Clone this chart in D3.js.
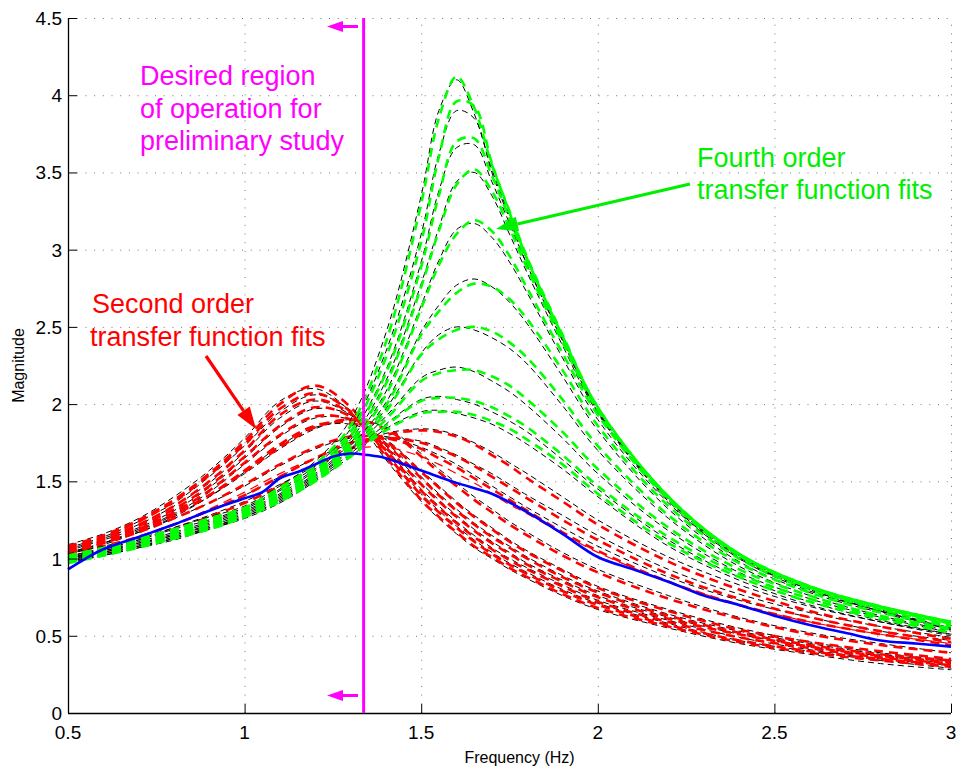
<!DOCTYPE html>
<html>
<head>
<meta charset="utf-8">
<script src="https://cdn.jsdelivr.net/npm/d3@7"></script>
<style>
  html, body { margin: 0; padding: 0; background: #fff; }
  svg { display: block; font-family: "Liberation Sans", Arial, Helvetica, sans-serif; }
</style>
</head>
<body>
<svg id="chart" width="961" height="769"></svg>
<script>
// Frequency grid (Hz) shared by every fitted and measured curve
const freq = [0.5, 0.6, 0.7, 0.8, 0.9, 1.0, 1.1, 1.2, 1.3, 1.4, 1.5, 1.55, 1.6, 1.65, 1.7, 1.75, 1.8, 1.9, 2.0, 2.2, 2.4, 2.6, 2.8, 3.0];

// Fourth order transfer function fits (green)
const fourthOrderFits = [
  [1.02,1.07,1.13,1.19,1.26,1.33,1.46,1.61,1.86,2.40,3.30,3.85,4.12,3.92,3.55,3.25,2.95,2.45,1.98,1.40,1.03,0.82,0.69,0.59],
  [1.01,1.06,1.12,1.18,1.25,1.32,1.45,1.59,1.82,2.30,3.05,3.60,3.96,3.93,3.56,3.24,2.94,2.44,1.98,1.40,1.03,0.82,0.69,0.59],
  [1.01,1.05,1.11,1.17,1.24,1.31,1.43,1.57,1.79,2.20,2.89,3.35,3.70,3.72,3.48,3.20,2.92,2.43,1.97,1.40,1.03,0.82,0.69,0.59],
  [1.00,1.05,1.10,1.16,1.23,1.30,1.42,1.56,1.76,2.13,2.76,3.12,3.42,3.52,3.38,3.14,2.88,2.40,1.96,1.39,1.02,0.82,0.68,0.58],
  [1.00,1.04,1.10,1.16,1.22,1.30,1.41,1.55,1.74,2.06,2.62,2.90,3.10,3.19,3.12,2.96,2.75,2.33,1.93,1.38,1.02,0.81,0.68,0.58],
  [0.99,1.04,1.09,1.15,1.21,1.29,1.40,1.54,1.72,1.99,2.45,2.60,2.72,2.78,2.76,2.68,2.55,2.22,1.86,1.34,1.00,0.80,0.67,0.57],
  [0.99,1.03,1.09,1.14,1.21,1.28,1.39,1.53,1.70,1.95,2.32,2.42,2.48,2.50,2.47,2.40,2.30,2.03,1.73,1.28,0.97,0.78,0.65,0.56],
  [0.98,1.03,1.08,1.14,1.20,1.28,1.38,1.52,1.69,1.90,2.15,2.20,2.22,2.22,2.18,2.12,2.03,1.82,1.58,1.20,0.93,0.76,0.63,0.55],
  [0.98,1.02,1.08,1.13,1.19,1.27,1.37,1.51,1.67,1.86,2.02,2.04,2.04,2.02,1.98,1.92,1.85,1.67,1.47,1.14,0.90,0.74,0.62,0.54],
  [0.97,1.02,1.07,1.13,1.19,1.27,1.37,1.50,1.66,1.83,1.94,1.95,1.95,1.93,1.89,1.84,1.77,1.61,1.42,1.10,0.88,0.72,0.61,0.52]
];

// Measured responses matched by the fourth order fits (thin black)
const fourthOrderData = [
  [1.03,1.08,1.13,1.20,1.27,1.34,1.47,1.63,1.90,2.46,3.35,3.90,4.10,3.88,3.52,3.22,2.93,2.43,1.96,1.39,1.02,0.81,0.67,0.55],
  [1.02,1.06,1.12,1.19,1.25,1.33,1.45,1.60,1.84,2.34,3.10,3.62,3.90,3.85,3.50,3.20,2.90,2.42,1.95,1.38,1.01,0.80,0.66,0.55],
  [1.01,1.05,1.11,1.17,1.24,1.32,1.44,1.58,1.80,2.22,2.92,3.38,3.66,3.68,3.44,3.17,2.90,2.41,1.95,1.38,1.01,0.80,0.66,0.55],
  [1.00,1.05,1.10,1.16,1.23,1.31,1.42,1.57,1.77,2.15,2.78,3.14,3.44,3.50,3.35,3.10,2.85,2.38,1.94,1.37,1.00,0.80,0.66,0.54],
  [1.00,1.04,1.10,1.15,1.22,1.30,1.41,1.55,1.75,2.08,2.64,2.93,3.13,3.17,3.08,2.92,2.72,2.30,1.90,1.36,1.00,0.79,0.66,0.54],
  [0.99,1.04,1.09,1.15,1.21,1.29,1.40,1.54,1.73,2.01,2.47,2.64,2.77,2.81,2.76,2.66,2.52,2.18,1.83,1.32,0.98,0.78,0.65,0.54],
  [0.99,1.03,1.08,1.14,1.20,1.28,1.39,1.53,1.71,1.97,2.33,2.45,2.50,2.48,2.43,2.36,2.26,1.99,1.70,1.26,0.95,0.76,0.63,0.53],
  [0.98,1.03,1.08,1.13,1.20,1.27,1.38,1.52,1.70,1.92,2.17,2.22,2.24,2.21,2.15,2.08,1.99,1.78,1.55,1.18,0.91,0.74,0.62,0.52],
  [0.98,1.02,1.07,1.13,1.19,1.27,1.37,1.51,1.68,1.87,2.03,2.05,2.03,2.00,1.95,1.89,1.82,1.64,1.45,1.12,0.88,0.72,0.60,0.51],
  [0.97,1.02,1.07,1.12,1.19,1.26,1.36,1.50,1.66,1.84,1.95,1.96,1.94,1.91,1.87,1.81,1.74,1.58,1.40,1.08,0.86,0.70,0.59,0.50]
];

// Second order transfer function fits (red)
const secondOrderFits = [
  [1.08,1.15,1.25,1.38,1.55,1.76,2.00,2.12,1.98,1.66,1.38,1.27,1.17,1.08,1.01,0.94,0.88,0.77,0.68,0.56,0.46,0.39,0.34,0.30],
  [1.07,1.14,1.24,1.37,1.54,1.74,1.97,2.07,1.95,1.68,1.41,1.30,1.20,1.11,1.03,0.96,0.90,0.79,0.70,0.57,0.47,0.40,0.35,0.31],
  [1.06,1.13,1.22,1.34,1.50,1.70,1.93,2.03,1.94,1.70,1.44,1.33,1.23,1.14,1.06,0.99,0.93,0.82,0.72,0.59,0.49,0.42,0.36,0.32],
  [1.05,1.12,1.21,1.32,1.47,1.66,1.86,1.98,1.92,1.72,1.48,1.37,1.27,1.18,1.10,1.03,0.96,0.85,0.75,0.61,0.51,0.43,0.37,0.33],
  [1.04,1.11,1.19,1.30,1.44,1.62,1.80,1.92,1.90,1.74,1.52,1.41,1.31,1.22,1.14,1.07,1.00,0.88,0.78,0.63,0.52,0.44,0.38,0.34],
  [1.03,1.10,1.18,1.28,1.41,1.57,1.74,1.86,1.88,1.76,1.56,1.46,1.36,1.27,1.19,1.11,1.04,0.92,0.81,0.66,0.54,0.46,0.40,0.35],
  [1.04,1.11,1.19,1.29,1.41,1.56,1.72,1.85,1.90,1.84,1.66,1.56,1.47,1.38,1.30,1.22,1.15,1.02,0.91,0.74,0.61,0.51,0.44,0.39],
  [1.00,1.06,1.12,1.19,1.27,1.36,1.47,1.59,1.71,1.80,1.83,1.82,1.79,1.74,1.67,1.60,1.52,1.37,1.22,0.98,0.80,0.66,0.56,0.48],
  [1.02,1.08,1.14,1.22,1.31,1.41,1.53,1.65,1.75,1.78,1.75,1.71,1.66,1.60,1.53,1.46,1.39,1.25,1.12,0.90,0.74,0.62,0.53,0.46],
  [1.03,1.10,1.17,1.26,1.36,1.48,1.61,1.72,1.79,1.78,1.71,1.65,1.59,1.52,1.45,1.38,1.31,1.17,1.05,0.85,0.70,0.59,0.51,0.44]
];

// A lighter second order fit drawn with a thin red dash
const secondOrderThinFit = [1.01,1.07,1.14,1.22,1.32,1.43,1.55,1.65,1.71,1.72,1.66,1.61,1.55,1.49,1.42,1.35,1.29,1.16,1.04,0.85,0.70,0.59,0.51,0.45];

// Measured responses matched by the second order fits (thin black)
const secondOrderData = [
  [1.09,1.16,1.26,1.40,1.57,1.78,2.02,2.10,1.95,1.64,1.37,1.26,1.16,1.07,1.00,0.93,0.87,0.76,0.67,0.55,0.45,0.38,0.32,0.28],
  [1.07,1.14,1.24,1.36,1.53,1.73,1.95,2.06,1.96,1.69,1.42,1.31,1.21,1.12,1.04,0.97,0.91,0.80,0.71,0.58,0.47,0.40,0.34,0.29],
  [1.06,1.13,1.22,1.34,1.49,1.69,1.91,2.02,1.93,1.71,1.45,1.34,1.24,1.15,1.07,1.00,0.94,0.83,0.73,0.60,0.49,0.41,0.35,0.31],
  [1.05,1.12,1.20,1.31,1.46,1.65,1.85,1.97,1.93,1.73,1.49,1.38,1.28,1.19,1.11,1.04,0.97,0.86,0.76,0.62,0.51,0.43,0.37,0.32],
  [1.04,1.10,1.19,1.29,1.43,1.61,1.79,1.91,1.90,1.75,1.53,1.42,1.32,1.23,1.15,1.08,1.01,0.89,0.79,0.64,0.53,0.45,0.38,0.33],
  [1.03,1.09,1.17,1.27,1.40,1.56,1.73,1.85,1.87,1.77,1.57,1.47,1.37,1.28,1.20,1.12,1.05,0.93,0.82,0.67,0.55,0.46,0.39,0.34],
  [1.04,1.10,1.18,1.28,1.40,1.55,1.71,1.84,1.90,1.85,1.68,1.58,1.49,1.40,1.32,1.24,1.17,1.04,0.93,0.76,0.62,0.52,0.45,0.39],
  [1.00,1.06,1.12,1.20,1.28,1.37,1.48,1.60,1.72,1.81,1.84,1.83,1.80,1.75,1.69,1.62,1.55,1.40,1.25,1.01,0.83,0.69,0.59,0.51],
  [1.01,1.07,1.14,1.22,1.31,1.41,1.53,1.65,1.74,1.78,1.76,1.72,1.67,1.61,1.55,1.48,1.41,1.28,1.15,0.93,0.77,0.65,0.56,0.49],
  [1.03,1.10,1.17,1.26,1.36,1.47,1.60,1.71,1.78,1.79,1.72,1.67,1.61,1.54,1.47,1.40,1.33,1.20,1.08,0.88,0.73,0.62,0.53,0.47]
];

// Nominal measured response (solid blue)
const nominalFreq = [0.5,0.55,0.6,0.7,0.8,0.9,1.0,1.05,1.1,1.15,1.2,1.25,1.3,1.35,1.4,1.5,1.6,1.7,1.8,1.9,2.0,2.1,2.2,2.3,2.4,2.5,2.6,2.7,2.8,2.9,3.0];
const nominalMag  = [0.93,1.00,1.06,1.14,1.22,1.31,1.39,1.43,1.52,1.56,1.61,1.66,1.68,1.67,1.65,1.57,1.49,1.42,1.30,1.16,1.01,0.93,0.85,0.76,0.70,0.63,0.57,0.52,0.47,0.45,0.43];

// Upper frequency bound of the region of interest
const operatingLimit = 1.337;

// Axis ticks
const xTicks = [0.5, 1, 1.5, 2, 2.5, 3];
const yTicks = [0, 0.5, 1, 1.5, 2, 2.5, 3, 3.5, 4, 4.5];

const svg = d3.select("#chart");
const margin = { left: 68, right: 10, top: 18, bottom: 56 };
const W = 961, H = 769;

const x = d3.scaleLinear().domain([0.5, 3]).range([margin.left, W - margin.right]);
const y = d3.scaleLinear().domain([0, 4.5]).range([H - margin.bottom, margin.top]);

const line = d3.line()
  .x(d => x(d[0]))
  .y(d => y(d[1]))
  .curve(d3.curveCatmullRom.alpha(0.5));

const toPoints = vals => vals.map((v, i) => [freq[i], v]);

// Dotted grid
const grid = svg.append("g").attr("stroke", "#777").attr("stroke-width", 1).attr("stroke-dasharray", "1,7.7");
grid.selectAll("line.gx").data(xTicks.slice(1)).join("line")
  .attr("x1", d => x(d) + 0.5).attr("x2", d => x(d) + 0.5)
  .attr("y1", y(0)).attr("y2", y(4.5));
grid.selectAll("line.gy").data(yTicks.slice(1)).join("line")
  .attr("x1", x(0.5)).attr("x2", x(3))
  .attr("y1", d => y(d) + 0.5).attr("y2", d => y(d) + 0.5);

const plot = svg.append("g");

// Second order group: measured data then fit
secondOrderData.forEach(vals => {
  plot.append("path").attr("d", line(toPoints(vals)))
    .attr("fill", "none").attr("stroke", "#000").attr("stroke-width", 1)
    .attr("stroke-dasharray", "6,4");
});
secondOrderFits.forEach(vals => {
  plot.append("path").attr("d", line(toPoints(vals)))
    .attr("fill", "none").attr("stroke", "#ff0000").attr("stroke-width", 2.6)
    .attr("stroke-dasharray", "9,6");
});
plot.append("path").attr("d", line(toPoints(secondOrderThinFit)))
  .attr("fill", "none").attr("stroke", "#ff0000").attr("stroke-width", 1.2)
  .attr("stroke-dasharray", "9,6");

// Fourth order group: measured data then fit
fourthOrderData.forEach(vals => {
  plot.append("path").attr("d", line(toPoints(vals)))
    .attr("fill", "none").attr("stroke", "#000").attr("stroke-width", 1)
    .attr("stroke-dasharray", "6,4");
});
fourthOrderFits.forEach(vals => {
  plot.append("path").attr("d", line(toPoints(vals)))
    .attr("fill", "none").attr("stroke", "#00ff00").attr("stroke-width", 2.6)
    .attr("stroke-dasharray", "9,6");
});

// Nominal response
plot.append("path")
  .attr("d", line(nominalFreq.map((f, i) => [f, nominalMag[i]])))
  .attr("fill", "none").attr("stroke", "#0000ff").attr("stroke-width", 2.6);

// Axes (left and bottom), ticks pointing inward
const axes = svg.append("g").attr("stroke", "#000").attr("fill", "none");
axes.append("line").attr("x1", x(0.5)).attr("x2", x(3)).attr("y1", y(0) + 0.5).attr("y2", y(0) + 0.5).attr("stroke-width", 1.3);
axes.append("line").attr("x1", x(0.5) + 0.5).attr("x2", x(0.5) + 0.5).attr("y1", y(0)).attr("y2", y(4.5)).attr("stroke-width", 1.3);
axes.selectAll("line.tx").data(xTicks).join("line")
  .attr("x1", d => x(d) + 0.5).attr("x2", d => x(d) + 0.5)
  .attr("y1", y(0)).attr("y2", y(0) - 9);
axes.selectAll("line.ty").data(yTicks).join("line")
  .attr("x1", x(0.5)).attr("x2", x(0.5) + 9)
  .attr("y1", d => y(d) + 0.5).attr("y2", d => y(d) + 0.5);

const labels = svg.append("g").attr("font-size", 19).attr("fill", "#000");
labels.selectAll("text.xl").data(xTicks).join("text")
  .attr("x", d => x(d)).attr("y", 739)
  .attr("text-anchor", "middle").text(d => d);
labels.selectAll("text.yl").data(yTicks).join("text")
  .attr("x", 62).attr("y", d => y(d) + 7)
  .attr("text-anchor", "end").text(d => d);

svg.append("text").attr("x", (x(0.5) + x(3)) / 2 + 10).attr("y", 763)
  .attr("text-anchor", "middle").attr("font-size", 16).text("Frequency (Hz)");
svg.append("text").attr("transform", `translate(24,${(y(0) + y(4.5)) / 2}) rotate(-90)`)
  .attr("text-anchor", "middle").attr("font-size", 16).text("Magnitude");

// Region-of-operation marker
const mag = "#ff00ff";
svg.append("line").attr("x1", x(operatingLimit)).attr("x2", x(operatingLimit))
  .attr("y1", y(4.5)).attr("y2", y(0)).attr("stroke", mag).attr("stroke-width", 3);

function arrow(x0, y0, x1, y1, color, width, headLen, headW) {
  const ang = Math.atan2(y1 - y0, x1 - x0);
  const bx = x1 - headLen * Math.cos(ang), by = y1 - headLen * Math.sin(ang);
  svg.append("line").attr("x1", x0).attr("y1", y0).attr("x2", bx).attr("y2", by)
    .attr("stroke", color).attr("stroke-width", width);
  const px = -Math.sin(ang) * headW / 2, py = Math.cos(ang) * headW / 2;
  svg.append("path")
    .attr("d", `M${x1},${y1}L${bx + px},${by + py}L${bx - px},${by - py}Z`)
    .attr("fill", color);
}

arrow(358, 26.5, 327, 26.5, mag, 3, 16, 11);
arrow(358, 695.5, 327, 695.5, mag, 3, 16, 11);

const magText = svg.append("g").attr("fill", mag).attr("font-size", 27);
magText.append("text").attr("x", 140).attr("y", 85).text("Desired region");
magText.append("text").attr("x", 140).attr("y", 118).text("of operation for");
magText.append("text").attr("x", 140).attr("y", 150).text("preliminary study");

const green = "#00ee00";
const gText = svg.append("g").attr("fill", green).attr("font-size", 27);
gText.append("text").attr("x", 697).attr("y", 167).text("Fourth order");
gText.append("text").attr("x", 697).attr("y", 199).text("transfer function fits");
arrow(690, 184, 496, 229, green, 3.2, 22, 15);

const rText = svg.append("g").attr("fill", "#ff0000").attr("font-size", 27);
rText.append("text").attr("x", 92).attr("y", 313).text("Second order");
rText.append("text").attr("x", 90).attr("y", 346).text("transfer function fits");
arrow(206, 356, 256, 429, "#ff0000", 3.2, 22, 15);
</script>
</body>
</html>
